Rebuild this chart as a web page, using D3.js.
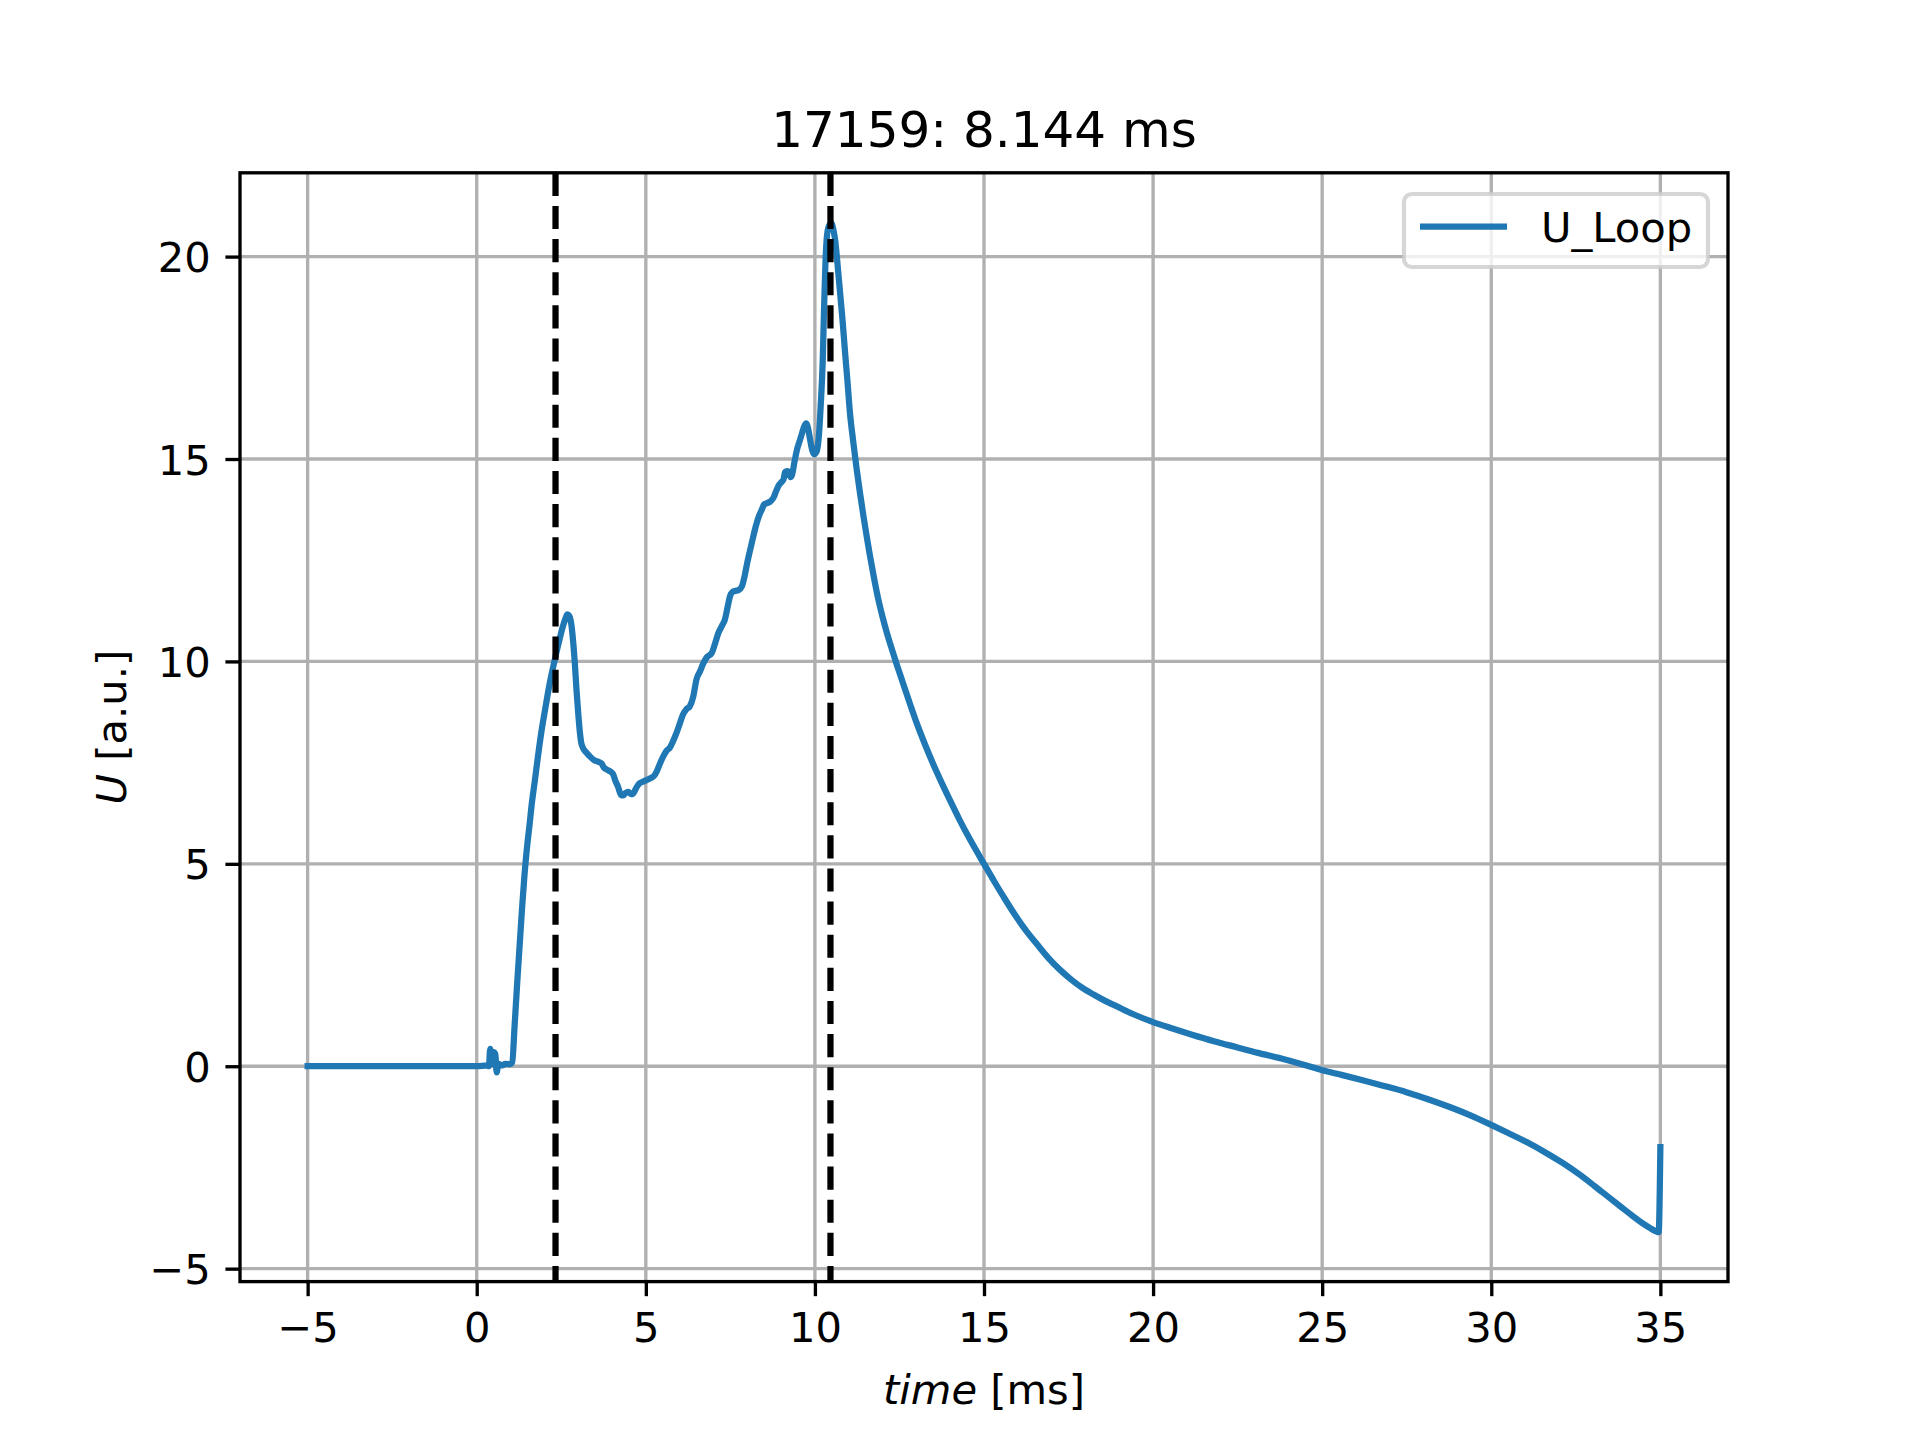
<!DOCTYPE html>
<html>
<head>
<meta charset="utf-8">
<script src="https://cdn.jsdelivr.net/npm/d3@7"></script>
<style>
  html, body { margin: 0; padding: 0; background: #fff; }
  svg { display: block; font-family: "DejaVu Sans", sans-serif; }
</style>
</head>
<body>
<svg id="chart" width="1920" height="1440"></svg>
<script>
// ---- data ----
const titleText = "17159: 8.144 ms";
const seriesName = "U_Loop";
const timeMs = [
  -5.0, -2.0, 0.0, 0.30, 0.36, 0.40, 0.44, 0.50, 0.55, 0.59, 0.64, 0.75, 0.85, 0.97, 1.05,
  1.12, 1.20, 1.27, 1.34, 1.41, 1.48, 1.56, 1.63, 1.71, 1.81, 1.91, 2.03, 2.15, 2.25, 2.35,
  2.45, 2.55, 2.62, 2.68, 2.74, 2.80, 2.85, 2.90, 2.95, 3.00, 3.05, 3.09, 3.15, 3.24, 3.35,
  3.49, 3.60, 3.69, 3.76, 3.84, 3.95, 4.03, 4.10, 4.18, 4.27, 4.33, 4.40, 4.48, 4.56, 4.62,
  4.72, 4.80, 4.92, 5.05, 5.17, 5.25, 5.32, 5.42, 5.52, 5.62, 5.71, 5.80, 5.91, 6.00, 6.10,
  6.20, 6.30, 6.40, 6.50, 6.60, 6.70, 6.80, 6.95, 7.05, 7.15, 7.25, 7.34, 7.42, 7.49, 7.57,
  7.64, 7.74, 7.84, 7.92, 7.99, 8.07, 8.14, 8.21, 8.28, 8.35, 8.43, 8.50, 8.58, 8.68, 8.78,
  8.85, 8.93, 9.00, 9.07, 9.12, 9.17, 9.23, 9.28, 9.32, 9.40, 9.47, 9.55, 9.62, 9.68, 9.74,
  9.80, 9.86, 9.92, 9.98, 10.05, 10.12, 10.17, 10.23, 10.27, 10.31, 10.35, 10.41, 10.49, 10.55, 10.60,
  10.67, 10.74, 10.82, 10.89, 10.96, 11.03, 11.13, 11.23, 11.33, 11.43, 11.52, 11.62, 11.75, 11.87, 12.00,
  12.12, 12.25, 12.41, 12.61, 12.80, 13.00, 13.25, 13.50, 13.75, 14.00, 14.27, 14.60, 15.00, 15.30, 15.59,
  15.90, 16.26, 16.60, 16.92, 17.25, 17.58, 17.90, 18.24, 18.57, 18.90, 19.40, 20.00, 20.50, 21.15, 21.80,
  22.47, 23.10, 23.79, 24.40, 25.00, 25.60, 26.17, 26.80, 27.49, 28.15, 28.81, 29.40, 30.00, 30.50, 31.06,
  31.60, 32.11, 32.60, 33.04, 33.45, 33.83, 34.20, 34.49, 34.70, 34.90, 34.95, 35.00
];
const uLoop = [
  0.00, 0.00, 0.00, 0.02, 0.00, 0.43, 0.05, 0.35, 0.30, -0.15, 0.06, 0.02, 0.06, 0.05, 0.10,
  1.00, 2.10, 3.00, 3.90, 4.70, 5.35, 5.95, 6.50, 7.00, 7.65, 8.25, 8.85, 9.42, 9.82, 10.20,
  10.55, 10.87, 11.05, 11.16, 11.12, 10.90, 10.50, 9.97, 9.30, 8.73, 8.25, 7.99, 7.85, 7.75, 7.65,
  7.55, 7.52, 7.48, 7.38, 7.33, 7.28, 7.22, 7.05, 6.90, 6.70, 6.69, 6.75, 6.78, 6.72, 6.73,
  6.88, 6.98, 7.03, 7.08, 7.13, 7.18, 7.28, 7.48, 7.66, 7.80, 7.87, 8.02, 8.24, 8.45, 8.69,
  8.82, 8.89, 9.12, 9.56, 9.75, 9.95, 10.10, 10.21, 10.45, 10.71, 10.88, 11.04, 11.35, 11.61, 11.72,
  11.74, 11.76, 11.85, 12.10, 12.40, 12.70, 12.95, 13.20, 13.42, 13.60, 13.75, 13.88, 13.91, 13.95, 14.05,
  14.20, 14.35, 14.42, 14.49, 14.68, 14.70, 14.68, 14.55, 14.60, 14.95, 15.23, 15.45, 15.64, 15.80, 15.88,
  15.75, 15.47, 15.22, 15.12, 15.18, 15.60, 16.30, 17.40, 18.70, 19.80, 20.45, 20.75, 20.82, 20.65, 20.40,
  19.80, 19.15, 18.40, 17.65, 16.95, 16.20, 15.45, 14.78, 14.18, 13.62, 13.15, 12.65, 12.05, 11.55, 11.10,
  10.73, 10.37, 9.95, 9.45, 8.98, 8.50, 7.96, 7.46, 7.00, 6.56, 6.10, 5.58, 5.00, 4.57, 4.17,
  3.76, 3.33, 2.98, 2.66, 2.38, 2.14, 1.94, 1.77, 1.62, 1.49, 1.29, 1.09, 0.95, 0.78, 0.62,
  0.47, 0.33, 0.19, 0.05, -0.10, -0.22, -0.34, -0.48, -0.64, -0.82, -1.02, -1.22, -1.45, -1.65, -1.88,
  -2.13, -2.39, -2.67, -2.95, -3.22, -3.47, -3.71, -3.89, -4.00, -4.09, -4.10, -2.00
];
const markerTimes = [2.33, 10.46];
const xTicks = [-5, 0, 5, 10, 15, 20, 25, 30, 35];
const yTicks = [-5, 0, 5, 10, 15, 20];

// ---- layout (matplotlib 6.4x4.8in @300dpi) ----
const W = 1920, H = 1440;
const L = 240, R = 1728, T = 172.8, B = 1281.6;
const pt = 300 / 72;
const fs = 10 * pt;           // 41.67 px
const svg = d3.select("#chart");

const x = d3.scaleLinear().domain([-7, 37]).range([L, R]);
const y = d3.scaleLinear().domain([-5.32, 22.07]).range([B, T]);

const fmt = v => (v < 0 ? "\u2212" + Math.abs(v) : String(v));

// grid
const grid = svg.append("g");
grid.selectAll("line.gx").data(xTicks).join("line")
  .attr("x1", d => x(d)).attr("x2", d => x(d)).attr("y1", T).attr("y2", B)
  .attr("stroke", "#b0b0b0").attr("stroke-width", 0.8 * pt);
grid.selectAll("line.gy").data(yTicks).join("line")
  .attr("x1", L).attr("x2", R).attr("y1", d => y(d)).attr("y2", d => y(d))
  .attr("stroke", "#b0b0b0").attr("stroke-width", 0.8 * pt);

// data line
const pts = timeMs.map((t, i) => [t, uLoop[i]]);
const line = d3.line().curve(d3.curveMonotoneX).x(d => x(d[0])).y(d => y(d[1]));
svg.append("path").datum(pts)
  .attr("d", line)
  .attr("fill", "none").attr("stroke", "#1f77b4")
  .attr("stroke-width", 1.5 * pt)
  .attr("stroke-linejoin", "round").attr("stroke-linecap", "square");

// vertical dashed markers
svg.selectAll("line.vm").data(markerTimes).join("line")
  .attr("x1", d => x(d)).attr("x2", d => x(d)).attr("y1", T).attr("y2", B)
  .attr("stroke", "#000").attr("stroke-width", 1.5 * pt)
  .attr("stroke-dasharray", `${3.7 * 1.5 * pt},${1.6 * 1.5 * pt}`);

// axes via d3
const xAxis = d3.axisBottom(x).tickValues(xTicks).tickFormat(fmt)
  .tickSize(3.5 * pt).tickPadding(3.5 * pt);
const yAxis = d3.axisLeft(y).tickValues(yTicks).tickFormat(fmt)
  .tickSize(3.5 * pt).tickPadding(3.5 * pt);

const gx = svg.append("g").attr("transform", `translate(0,${B})`).call(xAxis);
const gy = svg.append("g").attr("transform", `translate(${L},0)`).call(yAxis);
[gx, gy].forEach(g => {
  g.select(".domain").remove();
  g.selectAll(".tick line").attr("stroke", "#000").attr("stroke-width", 0.8 * pt);
  g.selectAll(".tick text").attr("fill", "#000")
    .style("font-family", "DejaVu Sans").style("font-size", fs + "px");
});
gx.selectAll(".tick text").attr("dy", null).attr("y", 3.5 * pt * 2 + 31);
gy.selectAll(".tick text").attr("dy", "0.36em");

// spines
svg.append("rect").attr("x", L).attr("y", T).attr("width", R - L).attr("height", B - T)
  .attr("fill", "none").attr("stroke", "#000").attr("stroke-width", 0.8 * pt)
  .attr("stroke-linecap", "square");

// title
svg.append("text").attr("x", (L + R) / 2).attr("y", 147)
  .attr("text-anchor", "middle").style("font-size", (12 * pt) + "px").attr("fill", "#000")
  .text(titleText);

// x label
const xl = svg.append("text").attr("x", (L + R) / 2).attr("y", 1404)
  .attr("text-anchor", "middle").style("font-size", fs + "px").attr("fill", "#000");
xl.append("tspan").style("font-style", "italic").text("time");
xl.append("tspan").text(" [ms]");

// y label
const yl = svg.append("text")
  .attr("transform", `translate(126,${(T + B) / 2}) rotate(-90)`)
  .attr("text-anchor", "middle").style("font-size", fs + "px").attr("fill", "#000");
yl.append("tspan").style("font-style", "italic").text("U");
yl.append("tspan").text(" [a.u.]");

// legend
const lg = svg.append("g");
lg.append("rect").attr("x", 1404).attr("y", 194).attr("width", 304).attr("height", 73)
  .attr("rx", 8).attr("ry", 8)
  .attr("fill", "#fff").attr("fill-opacity", 0.8)
  .attr("stroke", "#cccccc").attr("stroke-opacity", 0.8).attr("stroke-width", 1.0 * pt);
lg.append("line").attr("x1", 1420).attr("x2", 1507).attr("y1", 226.7).attr("y2", 226.7)
  .attr("stroke", "#1f77b4").attr("stroke-width", 1.5 * pt);
lg.append("text").attr("x", 1541).attr("y", 241.5)
  .style("font-size", fs + "px").attr("fill", "#000").text(seriesName);
</script>
</body>
</html>
